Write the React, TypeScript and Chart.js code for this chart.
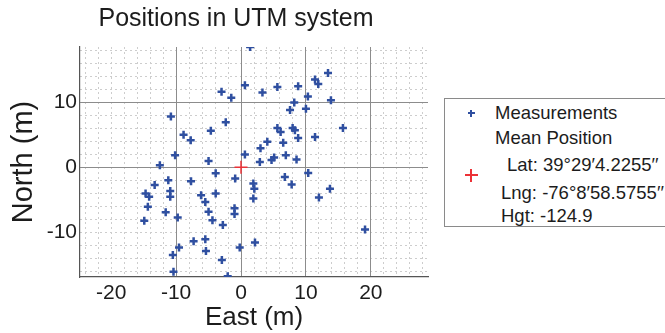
import React, { useEffect, useRef } from 'react';
import { Chart, registerables } from 'chart.js';

Chart.register(...registerables);

// ---- data (metres East / North relative to mean position) ----
const measEast = [
  1.4, 0.6, 3.3, 5.6, 8.8, 11.4, 11.9, 13.4, 10.3, 13.85,
  8.2, 10.0, 7.55, 15.7, 5.6, 6.1, 7.95, 8.3, 8.8, 11.4,
  4.05, 3.0, 6.5, 6.9, 0.6, 5.1, 4.7, 2.9, 8.55, -3.0,
  -1.5, -10.8, -2.35, -4.65, -8.85, -7.75, -10.15, -5.0, -12.5,
  10.35, 6.75, 7.8, -0.9, 1.9, 2.05, 1.9, 13.7, 12.0, -1.0,
  -1.0, 2.15, -0.2, 19.1, -3.9, -13.3, -11.2, -7.7, -14.7, -14.15,
  -10.9, -10.9, -6.15, -5.5, -3.9, -14.35, -5.0, -11.6, -9.75, -4.4,
  -14.9, -2.8, -7.3, -5.5, -9.55, -5.4, -10.5, -2.95, -10.4, -2.05,
];
const measNorth = [
  18.5, 12.6, 11.5, 12.35, 12.45, 13.5, 12.8, 14.5, 10.9, 10.3,
  9.95, 9.0, 8.8, 6.05, 6.05, 5.4, 6.05, 5.7, 4.5, 4.65,
  3.9, 2.9, 3.75, 1.85, 1.95, 1.5, 1.1, 0.8, 1.2, 11.6,
  10.7, 7.8, 6.9, 5.6, 5.0, 4.15, 1.85, 0.97, 0.3,
  -0.9, -1.5, -2.65, -1.75, -2.5, -3.3, -4.8, -3.3, -4.65, -6.3,
  -7.2, -11.6, -12.35, -9.6, -0.95, -2.75, -2.0, -2.15, -4.05, -4.55,
  -3.65, -4.55, -4.3, -5.35, -4.05, -6.1, -6.85, -6.95, -7.75, -8.15,
  -8.25, -8.9, -11.4, -11.1, -12.35, -12.9, -13.5, -14.3, -16.1, -16.8,
];
const meanEast = [0];
const meanNorth = [0];

const xTicks = [-20, -10, 0, 10, 20];
const yTicks = [-10, 0, 10];
const xMajorGrid = [-10, 0, 10, 20];
const yMajorGrid = [0, 10];
const minorStep = 2;
const xLimits = [-24.8, 28.8];
const yLimits = [-16.9, 18.5];

const titleText = 'Positions in UTM system';
const xTitleText = 'East (m)';
const yTitleText = 'North (m)';
const legendMeasText = 'Measurements';
const legendMeanLines = ['Mean Position', 'Lat: 39°29′4.2255′′', 'Lng: -76°8′58.5755′′', 'Hgt: -124.9'];

const FONT = '"Liberation Sans", Arial, Helvetica, sans-serif';
const TEXT = '#1c1c1c';
const BLUE = '#2f4fa0';
const RED = '#ec3237';

function minorTicks(min: number, max: number) {
  const out: { value: number }[] = [];
  for (let v = Math.ceil(min / minorStep) * minorStep; v <= max; v += minorStep) out.push({ value: v });
  return out;
}

export default function App() {
  const ref = useRef<HTMLCanvasElement | null>(null);

  useEffect(() => {
    if (!ref.current) return;
    const chart = new Chart(ref.current, {
      type: 'scatter',
      data: {
        datasets: [
          {
            label: 'Measurements',
            data: measEast.map((x, i) => ({ x, y: measNorth[i] })),
            pointStyle: 'cross',
            pointRadius: 4,
            pointBorderWidth: 2.5,
            borderColor: BLUE,
            backgroundColor: BLUE,
            xAxisID: 'x',
            yAxisID: 'y',
          },
          {
            label: 'Mean Position',
            data: meanEast.map((x, i) => ({ x, y: meanNorth[i] })),
            pointStyle: 'cross',
            pointRadius: 6.5,
            pointBorderWidth: 1.5,
            borderColor: RED,
            backgroundColor: RED,
            xAxisID: 'x',
            yAxisID: 'y',
          },
        ],
      },
      options: {
        responsive: false,
        animation: false,
        layout: { padding: 0 },
        plugins: {
          legend: { display: false },
          tooltip: { enabled: false },
          title: {
            display: true,
            text: titleText,
            color: TEXT,
            font: { family: FONT, size: 25, weight: 'normal', lineHeight: 1.2 },
            padding: { top: 4, bottom: 13 },
          },
        },
        scales: {
          xm: {
            type: 'linear',
            position: 'top',
            min: xLimits[0],
            max: xLimits[1],
            afterBuildTicks: (s: any) => { s.ticks = minorTicks(xLimits[0], xLimits[1]); },
            afterFit: (s: any) => { s.height = 0; },
            ticks: { display: false },
            grid: { color: '#cdcdcd', lineWidth: 1, drawTicks: false, z: -2 },
            border: { display: false, dash: [2, 3] },
          },
          ym: {
            type: 'linear',
            position: 'right',
            min: yLimits[0],
            max: yLimits[1],
            afterBuildTicks: (s: any) => { s.ticks = minorTicks(yLimits[0], yLimits[1]); },
            afterFit: (s: any) => { s.width = 44; },
            ticks: { display: false },
            grid: { color: '#cdcdcd', lineWidth: 1, drawTicks: false, z: -2 },
            border: { display: false, dash: [2, 3] },
          },
          x: {
            type: 'linear',
            position: 'bottom',
            min: xLimits[0],
            max: xLimits[1],
            afterBuildTicks: (s: any) => { s.ticks = xTicks.map((v) => ({ value: v })); },
            afterFit: (s: any) => { s.height = 56; },
            ticks: {
              color: TEXT,
              font: { family: FONT, size: 21 },
              padding: 4,
              maxRotation: 0,
              autoSkip: false,
              callback: (v: any) => String(v),
            },
            grid: {
              color: (c: any) => (c.tick && xMajorGrid.includes(c.tick.value) ? '#8c8c8c' : 'rgba(0,0,0,0)'),
              lineWidth: 1,
              drawTicks: false,
              z: -1,
            },
            border: { display: true, color: '#555', width: 1.2 },
            title: {
              display: true,
              text: xTitleText,
              color: TEXT,
              font: { family: FONT, size: 26, lineHeight: 1.2 },
              padding: { top: 0, bottom: 0 },
            },
          },
          y: {
            type: 'linear',
            position: 'left',
            min: yLimits[0],
            max: yLimits[1],
            afterBuildTicks: (s: any) => { s.ticks = yTicks.map((v) => ({ value: v })); },
            afterFit: (s: any) => { s.width = 80; },
            ticks: {
              color: TEXT,
              font: { family: FONT, size: 21 },
              padding: 3,
              autoSkip: false,
              callback: (v: any) => String(v),
            },
            grid: {
              color: (c: any) => (c.tick && yMajorGrid.includes(c.tick.value) ? '#8c8c8c' : 'rgba(0,0,0,0)'),
              lineWidth: 1,
              drawTicks: false,
              z: -1,
            },
            border: { display: true, color: '#555', width: 1.2 },
            title: {
              display: true,
              text: yTitleText,
              color: TEXT,
              font: { family: FONT, size: 29, lineHeight: 1.2 },
              padding: { top: 6.5, bottom: 0 },
            },
          },
        },
      } as any,
    });
    return () => chart.destroy();
  }, []);

  const textStyle = (left: number, top: number): React.CSSProperties => ({
    position: 'absolute',
    left,
    top,
    fontSize: 18.5,
    lineHeight: '22px',
    whiteSpace: 'nowrap',
    color: TEXT,
  });

  const plus = (cx: number, cy: number, size: number, thick: number, color: string) => (
    <>
      <div style={{ position: 'absolute', left: cx - size / 2, top: cy - thick / 2, width: size, height: thick, background: color }} />
      <div style={{ position: 'absolute', left: cx - thick / 2, top: cy - size / 2, width: thick, height: size, background: color }} />
    </>
  );

  return (
    <div
      style={{
        position: 'fixed',
        left: 0,
        top: 0,
        width: 665,
        height: 333,
        overflow: 'hidden',
        background: '#fff',
        fontFamily: FONT,
      }}
    >
      <canvas ref={ref} width={472} height={333} style={{ position: 'absolute', left: 0, top: 0 }} />
      <div
        style={{
          position: 'absolute',
          left: 444,
          top: 98,
          width: 260,
          height: 127,
          border: '1px solid #8a8a8a',
          background: '#fff',
        }}
      />
      {plus(471, 113, 7, 2.2, BLUE)}
      {plus(471, 175, 13, 1.5, RED)}
      <div style={textStyle(495, 102)}>{legendMeasText}</div>
      <div style={textStyle(495, 127)}>{legendMeanLines[0]}</div>
      <div style={textStyle(507, 154)}>{legendMeanLines[1]}</div>
      <div style={textStyle(501, 182)}>{legendMeanLines[2]}</div>
      <div style={textStyle(501, 205)}>{legendMeanLines[3]}</div>
    </div>
  );
}
